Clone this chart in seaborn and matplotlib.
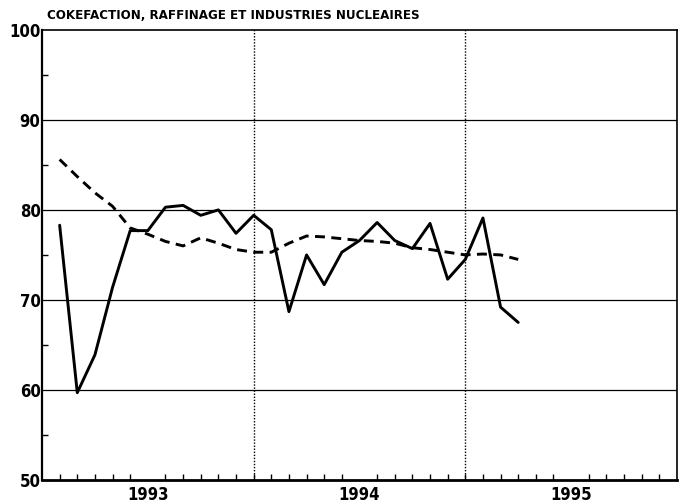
import pandas as pd
import numpy as np
import matplotlib
matplotlib.use("Agg")
import matplotlib.pyplot as plt
import seaborn as sns

# month index counted from Jan 1993 = 0 ; data runs Feb 1993 .. Apr 1995
months = list(range(1, 28))

# solid line : monthly series
brut = [78.3, 59.7, 63.9, 71.4, 77.7, 77.7, 80.3, 80.5, 79.4, 80.0,
        77.4, 79.4, 77.8, 68.7, 75.0, 71.7, 75.3, 76.6, 78.6, 76.6,
        75.7, 78.5, 72.3, 74.5, 79.1, 69.2, 67.5]

# dashed line : smoothed trend
tendance = [85.6, 83.7, 81.9, 80.4, 78.0, 77.3, 76.5, 76.0, 76.9, 76.3,
            75.6, 75.3, 75.3, 76.3, 77.1, 77.0, 76.8, 76.6, 76.5, 76.3,
            75.8, 75.6, 75.3, 75.0, 75.1, 75.0, 74.5]

year_labels = ['1993', '1994', '1995']
y_ticks = [50, 60, 70, 80, 90, 100]
title = 'COKEFACTION, RAFFINAGE ET INDUSTRIES NUCLEAIRES'

df = pd.DataFrame({'mois': months, 'brut': brut, 'tendance': tendance})

sns.set_style("white")
plt.rcParams['font.family'] = ['DejaVu Sans']
plt.rcParams['font.stretch'] = 'condensed'
plt.rcParams['text.color'] = 'black'
plt.rcParams['xtick.color'] = 'black'
plt.rcParams['ytick.color'] = 'black'

fig = plt.figure(figsize=(6.82, 5.03), dpi=100)
ax = fig.add_axes([0.0616, 0.0457, 0.931, 0.895])

sns.lineplot(data=df, x='mois', y='brut', ax=ax, color='black', linewidth=2.1)
sns.lineplot(data=df, x='mois', y='tendance', ax=ax, color='black', linewidth=2.1,
             linestyle=(0, (3.4, 2.2)))

ax.set_xlim(0, 36)
ax.set_ylim(50, 100)

# horizontal grid : solid thin lines
for v in y_ticks[1:-1]:
    ax.axhline(v, color='black', linewidth=0.9, zorder=0)
# year boundaries : dotted
for v in [12, 24]:
    ax.axvline(v, color='black', linewidth=1.0, linestyle=(0, (1, 1.2)), zorder=0)

ax.set_yticks(y_ticks)
ax.set_yticklabels([str(v) for v in y_ticks], fontsize=12, fontweight='bold')
ax.set_yticks([55, 65, 75, 85, 95], minor=True)

ax.set_xticks([6, 18, 30])
ax.set_xticklabels(year_labels, fontsize=12, fontweight='bold')
ax.set_xticks(range(1, 36), minor=True)

ax.tick_params(axis='x', which='major', length=0, pad=4)
ax.tick_params(axis='x', which='minor', direction='in', length=4, width=1, color='black', bottom=True)
ax.tick_params(axis='y', which='major', length=0, pad=1)
ax.tick_params(axis='y', which='minor', direction='in', length=4, width=1, color='black', left=True)

for s in ax.spines.values():
    s.set_color('black')
    s.set_linewidth(1.2)
ax.spines['bottom'].set_linewidth(2.0)
ax.spines['left'].set_linewidth(1.6)

ax.set_xlabel('')
ax.set_ylabel('')
ax.text(0.008, 1.018, title, transform=ax.transAxes, fontsize=9.5, fontweight='bold',
        ha='left', va='bottom')

fig.savefig('out.png', dpi=100)
